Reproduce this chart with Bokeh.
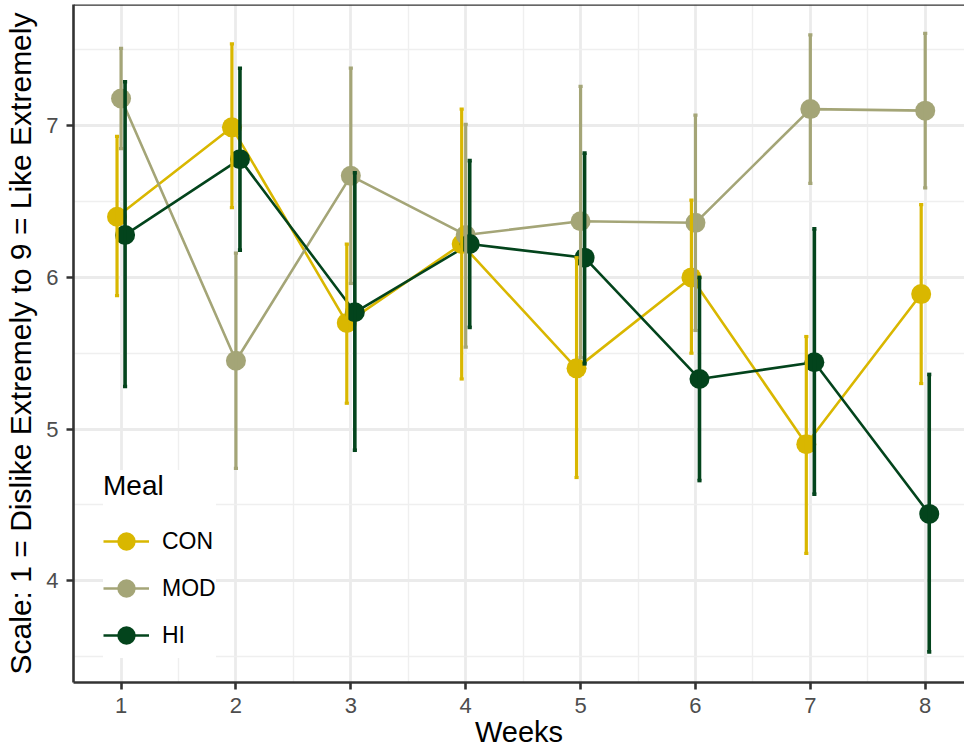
from bokeh.plotting import figure
from bokeh.models import (Range1d, FixedTicker, Legend, LegendItem, Span, ColumnDataSource)
from bokeh.embed import file_html
from bokeh.resources import INLINE

# ---- data ----
weeks = [1, 2, 3, 4, 5, 6, 7, 8]
meals = ["CON", "MOD", "HI"]

con_mean = [6.40, 6.99, 5.70, 6.22, 5.40, 6.00, 4.90, 5.89]
con_lo   = [5.88, 6.46, 5.17, 5.33, 4.68, 5.50, 4.18, 5.30]
con_hi   = [6.93, 7.54, 6.22, 7.11, 6.13, 6.51, 5.61, 6.48]

mod_mean = [7.18, 5.45, 6.67, 6.28, 6.37, 6.36, 7.11, 7.10]
mod_lo   = [6.85, 4.74, 5.96, 5.54, 5.47, 5.65, 6.62, 6.59]
mod_hi   = [7.51, 6.16, 7.38, 7.01, 7.26, 7.07, 7.60, 7.61]

hi_mean  = [6.28, 6.78, 5.77, 6.22, 6.13, 5.33, 5.44, 4.44]
hi_lo    = [5.28, 6.18, 4.86, 5.67, 5.43, 4.66, 4.57, 3.53]
hi_hi    = [7.29, 7.38, 6.69, 6.77, 6.82, 6.00, 6.32, 5.36]

y_ticks = [4, 5, 6, 7]
y_minor = [3.5, 4.5, 5.5, 6.5, 7.5]
x_minor = [1.5, 2.5, 3.5, 4.5, 5.5, 6.5, 7.5]

# ---- styles ----
colors = {"CON": "#D9B700", "MOD": "#A4A577", "HI": "#03441C"}
dodge = {"CON": -0.035, "MOD": 0.0, "HI": 0.035}
bar_w = {"CON": 3.2, "MOD": 3.2, "HI": 3.6}
series = {
    "CON": (con_mean, con_lo, con_hi),
    "MOD": (mod_mean, mod_lo, mod_hi),
    "HI": (hi_mean, hi_lo, hi_hi),
}

FONT = "Liberation Sans"
X0, X1 = 0.586, 8.342
Y0, Y1 = 3.328, 7.80

p = figure(width=964, height=753, output_backend="svg", toolbar_location=None,
           x_range=Range1d(X0, X1), y_range=Range1d(Y0, Y1),
           min_border_left=73, min_border_right=0, min_border_top=4,
           min_border_bottom=71)
p.outline_line_color = None
p.background_fill_color = "white"
p.border_fill_color = "white"

# grid
p.xaxis.ticker = FixedTicker(ticks=weeks, minor_ticks=x_minor)
p.yaxis.ticker = FixedTicker(ticks=y_ticks, minor_ticks=y_minor)
for g in (p.xgrid, p.ygrid):
    g.grid_line_color = "#EBEBEB"
    g.grid_line_width = 2.8
    g.minor_grid_line_color = "#EFEFEF"
    g.minor_grid_line_width = 1.4

# axes
for ax in (p.xaxis, p.yaxis):
    ax.axis_line_color = "#333333"
    ax.axis_line_width = 2.6
    ax.major_tick_line_color = "#333333"
    ax.major_tick_line_width = 2.6
    ax.major_tick_out = 7
    ax.major_tick_in = 0
    ax.minor_tick_line_color = None
    ax.major_label_text_font = FONT
    ax.major_label_text_font_size = "22px"
    ax.major_label_text_color = "#4D4D4D"
    ax.axis_label_text_font = FONT
    ax.axis_label_text_font_style = "normal"
    ax.axis_label_text_color = "black"
p.xaxis.axis_label_text_font_size = "29px"
p.yaxis.axis_label_text_font_size = "30px"
p.xaxis.axis_label = "Weeks"
p.yaxis.axis_label = "Scale: 1 = Dislike Extremely to 9 = Like Extremely"
p.xaxis.major_label_standoff = 8
p.yaxis.major_label_standoff = 8
p.xaxis.axis_label_standoff = 0
p.yaxis.axis_label_standoff = 6

# top panel border
p.add_layout(Span(location=Y1, dimension="width", line_color="#333333", line_width=2.6))

line_r, pt_r = {}, {}
sources = {}
for m in meals:
    mean, lo, hi = series[m]
    xs = [w + dodge[m] for w in weeks]
    sources[m] = ColumnDataSource(dict(x=xs, y=mean, lo=lo, hi=hi,
                                       cx0=[x - 0.018 for x in xs],
                                       cx1=[x + 0.018 for x in xs]))
for m in meals:
    line_r[m] = p.line("x", "y", source=sources[m], line_color=colors[m], line_width=2.6)
for m in meals:
    pt_r[m] = p.scatter("x", "y", source=sources[m], size=20, fill_color=colors[m],
                        line_color=colors[m], line_width=0)
for m in meals:
    s = sources[m]
    p.segment("x", "lo", "x", "hi", source=s, line_color=colors[m], line_width=bar_w[m])
    p.segment("cx0", "hi", "cx1", "hi", source=s, line_color=colors[m], line_width=bar_w[m])
    p.segment("cx0", "lo", "cx1", "lo", source=s, line_color=colors[m], line_width=bar_w[m])

legend = Legend(items=[LegendItem(label=m, renderers=[line_r[m], pt_r[m]]) for m in meals],
                location=(30, 24), title="Meal")
legend.title_text_font = FONT
legend.title_text_font_size = "28px"
legend.title_text_font_style = "normal"
legend.title_text_color = "black"
legend.title_standoff = 16
legend.label_text_font = FONT
legend.label_text_font_size = "23px"
legend.label_text_color = "black"
legend.glyph_width = 46
legend.glyph_height = 46
legend.spacing = 1
legend.label_standoff = 13
legend.padding = 18
legend.margin = 0
legend.border_line_color = None
legend.background_fill_color = "white"
legend.background_fill_alpha = 1.0
p.add_layout(legend, "center")

open("out.html", "w").write(file_html(p, INLINE))
